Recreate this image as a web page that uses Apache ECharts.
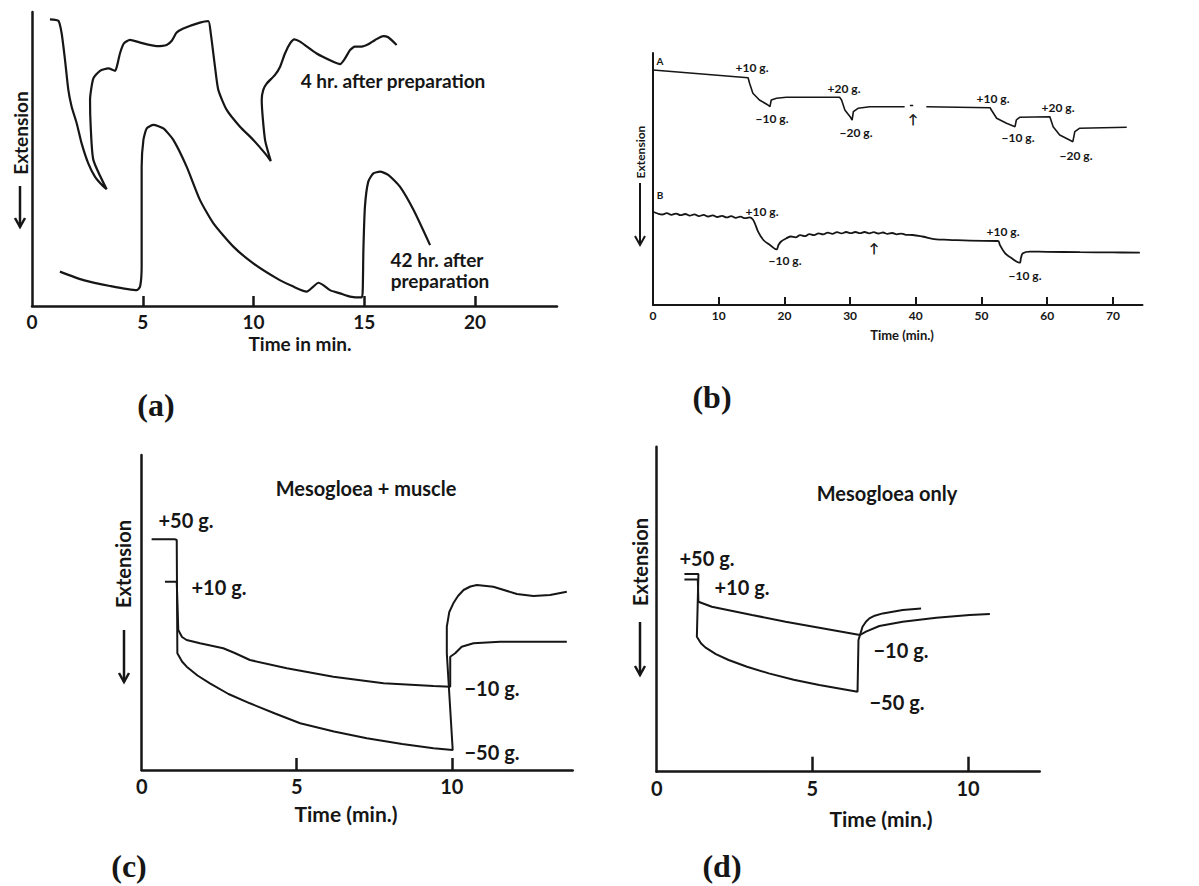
<!DOCTYPE html>
<html>
<head>
<meta charset="utf-8">
<script src="https://cdn.jsdelivr.net/npm/echarts@6/dist/echarts.min.js"></script>
<style>
html,body{margin:0;padding:0;background:#fff;}
#chart{width:1199px;height:886px;}
</style>
</head>
<body>
<div id="chart"></div>
<script>
// ---------- Panel (a): time (min) vs extension (arbitrary units, 0-100)
const ticksA = [0, 5, 10, 15, 20];
const a4hr = [
  [0.81,97.5],[1.19,97.0],[1.34,92.7],[1.49,83.7],[1.64,73.5],[1.79,67.8],[2.02,62.1],[2.24,55.3],[2.54,48.5],[2.84,44.0],[3.15,41.2],[3.37,39.7],
  [2.77,49.7],[2.65,61.0],[2.62,70.1],[2.77,77.4],[3.07,80.0],[3.45,80.8],[3.75,80.0],[3.85,82.0],[3.97,85.9],[4.15,89.3],[4.42,90.5],[4.88,89.6],[5.63,88.4],[6.08,88.8],[6.31,90.2],[6.53,93.0],[6.83,94.4],[7.58,96.4],[7.96,96.9],
  [8.07,92.7],[8.26,81.4],[8.41,73.5],[8.79,66.7],[9.39,61.0],[9.99,56.5],[10.52,51.9],[10.78,49.3],
  [10.52,56.5],[10.37,70.1],[10.44,73.5],[10.60,75.7],[10.97,78.6],[11.20,81.4],[11.42,85.9],[11.65,89.3],[11.84,90.7],[12.10,89.9],[12.85,85.9],[13.60,83.1],[13.91,82.3],[14.13,84.2],[14.36,87.1],[14.58,88.2],[14.88,88.2],[15.18,89.0],[15.49,90.5],[15.86,91.8],[16.08,91.4],[16.46,88.8]
];
const a42hr = [
  [1.26,11.7],[2.32,8.8],[3.52,6.8],[4.73,5.4],[4.88,6.6],[4.95,13.4],[4.95,47.4],[5.03,56.5],[5.18,60.4],[5.48,61.6],[5.93,60.4],[6.38,56.5],[6.98,47.4],[7.58,36.1],[8.19,28.1],[9.09,20.2],[9.99,14.5],[11.05,9.4],[11.80,6.6],[12.40,4.9],[12.70,6.6],[12.93,7.9],[13.15,7.1],[13.45,5.4],[13.91,4.3],[14.36,3.2],[14.88,2.9],[14.93,5.4],[14.96,19.0],[15.03,33.8],[15.18,42.3],[15.41,45.1],[15.71,45.7],[16.08,44.6],[16.61,40.6],[17.22,32.7],[17.97,20.7]
];

// ---------- Panel (b): time (min) vs extension (arbitrary units)
const ticksB = [0, 10, 20, 30, 40, 50, 60, 70];
const bA1 = [[0,235],[14.47,227.3],[14.7,221.7],[15.2,211.7],[16.2,205],[17.5,200],[17.8,198.3],[18.0,205],[18.8,206.7],[20.3,207.7],[28.4,207.7],[28.7,205],[29.2,195],[30.0,188.3],[30.3,185],[30.5,193.3],[31.2,196.7],[33.0,198.3],[38.3,198.3]];
const bA2 = [[39.1,199.5],[39.6,199.5]];
const bA3 = [[41.6,198.3],[51.3,197.3],[51.5,195],[52.3,186.7],[53.8,181.7],[55.1,178.3],[55.3,185],[55.8,187.7],[60.4,188.3],[60.9,178.3],[61.9,170],[63.4,165],[63.9,163.3],[64.2,173.3],[64.9,176.7],[72.1,177.7]];
const bB = [[0,93.3],[0.7,91.5],[1.4,90.5],[2.1,91.8],[2.8,90.2],[3.5,91.4],[4.2,89.8],[4.9,91.0],[5.6,89.4],[6.3,90.6],[7.0,88.9],[7.7,90.1],[8.4,88.5],[9.1,89.7],[9.8,88.0],[10.5,89.2],[11.2,87.6],[11.9,88.8],[12.6,87.2],[13.3,88.3],[14.0,86.8],[14.7,87.6],[15.2,85.5],[15.6,80],[16.0,73.3],[16.8,65],[17.8,60],[18.8,55.7],[19.1,60],[19.5,63.5],[20.3,66.7],[21.0,68.5],[21.7,67.6],[22.4,69.8],[23.1,68.8],[23.8,70.8],[24.5,69.8],[25.2,71.6],[25.9,70.6],[26.6,72.3],[27.3,71.2],[28.0,72.8],[28.7,71.6],[29.4,73.0],[30.1,71.8],[30.8,73.0],[31.5,71.8],[32.2,73.0],[32.9,71.7],[33.6,72.8],[34.3,71.5],[35.0,72.5],[35.7,71.1],[36.4,72.0],[37.1,70.7],[37.8,71.4],[38.5,70.2],[39.5,70.0],[41,68.5],[43.1,65.7],[45,65.2],[48.2,64.3],[52.5,64],[52.8,60],[53.6,51.7],[54.6,46.7],[55.8,42.3],[56.0,47],[56.3,51.7],[57.4,53.3],[60,53.2],[65,52.8],[70,52.6],[74.1,52.3]];

// ---------- Panel (c): Mesogloea + muscle
const ticksC = [0, 5, 10];
const c50 = [[0.32,230.7],[1.08,230.7],[1.13,230],[1.15,116.7],[1.3,108.5],[1.45,103.3],[1.8,94.5],[2.20,86.7],[2.8,76],[3.49,66.7],[4.3,56.5],[5.11,46.7],[6.2,38.5],[7.26,31.7],[8.4,26],[9.41,21.7],[10.03,20],[9.84,116.7],[9.84,143.3],[9.92,158],[10.05,166.7],[10.2,174],[10.38,180],[10.6,183.5],[10.81,185],[11.34,183.3],[12.10,176],[12.63,174],[13.17,175],[13.71,178.3]];
const c10 = [[0.75,188.3],[1.13,188.3],[1.18,140],[1.3,133],[1.45,130],[1.88,126.7],[2.63,121.7],[3.0,117],[3.49,110],[4.68,101.7],[6.18,93.3],[7.80,86.7],[9.41,84],[9.95,83.3],[9.95,113.3],[10.11,116.7],[10.32,123.3],[10.70,126.7],[11.56,128.3],[12.63,128.3],[13.71,128.3]];

// ---------- Panel (d): Mesogloea only
const ticksD = [0, 5, 10];
const d50 = [[0.89,197.7],[1.34,197.7],[1.29,135],[1.42,128.5],[1.56,124.3],[1.9,117.5],[2.31,111.7],[2.9,105],[3.60,98.3],[4.4,92],[5.22,86.7],[6.45,80],[6.48,131.7],[6.61,145],[6.72,150],[6.83,153.3],[7.0,156],[7.26,158.3],[7.90,161.7],[8.49,163.3]];
const d10 = [[0.89,192.3],[1.32,192.3],[1.34,170],[1.77,165],[3.06,156.7],[4.14,150],[5.22,144],[6.53,136.7],[6.72,140],[7.15,145.7],[7.90,150],[8.98,154],[10.05,156.7],[10.70,157.7]];

// ---------- styling / layout
const INK = '#161616';
const SANS = 'Lato, "Open Sans", "DejaVu Sans", sans-serif';
const SERIF = '"Liberation Serif", "DejaVu Serif", serif';

function xAx(gi, max, interval, ticks, fs, tickLen, margin, lw) {
  return {
    type: 'value', gridIndex: gi, min: 0, max: max, interval: interval,
    axisLine: { show: true, lineStyle: { color: INK, width: lw } },
    axisTick: { show: true, inside: true, length: tickLen, lineStyle: { color: INK, width: lw },
      customValues: ticks.filter(v => v > 0) },
    axisLabel: { show: true, color: INK, fontFamily: SANS, fontWeight: 'bold', fontSize: fs, margin: margin,
      customValues: ticks, formatter: v => String(v) },
    splitLine: { show: false }
  };
}
function yAx(gi, max, lw) {
  return {
    type: 'value', gridIndex: gi, min: 0, max: max,
    axisLine: { show: true, onZero: false, lineStyle: { color: INK, width: lw } },
    axisTick: { show: false }, axisLabel: { show: false }, splitLine: { show: false }
  };
}
function line(data, xi, w, smooth) {
  return { type: 'line', data: data, xAxisIndex: xi, yAxisIndex: xi, symbol: 'none', showSymbol: false,
    smooth: smooth || false, silent: true, animation: false,
    lineStyle: { color: INK, width: w } };
}
function txt(x, y, s, fs, opts) {
  opts = opts || {};
  return { type: 'text', x: x, y: y, rotation: opts.rot || 0, silent: true,
    style: { text: s, fill: INK, fontSize: fs, fontFamily: opts.serif ? SERIF : SANS,
      fontWeight: 'bold', align: 'center', verticalAlign: 'middle' } };
}
function arrow(x, y1, y2, w) {
  return [
    { type: 'line', silent: true, shape: { x1: x, y1: y1, x2: x, y2: y2 }, style: { stroke: INK, lineWidth: w } },
    { type: 'polyline', silent: true, shape: { points: [[x - 5, y2 - 9], [x, y2], [x + 5, y2 - 9]] },
      style: { stroke: INK, lineWidth: w, fill: null } }
  ];
}

const chart = echarts.init(document.getElementById('chart'), null, { renderer: 'svg', width: 1199, height: 886 });

const graphics = [].concat(
  // (a)
  [txt(393, 80, '4 hr. after preparation', 19),
   txt(437, 259, '42 hr. after', 19),
   txt(440, 280, 'preparation', 19),
   txt(300, 343, 'Time in min.', 19),
   txt(20, 133, 'Extension', 19, { rot: Math.PI / 2 }),
   txt(156, 405, '(a)', 32, { serif: true })],
  arrow(20, 186, 227, 2.5),
  // (b)
  [txt(660, 61, 'A', 10),
   txt(752, 67, '+10 g.', 12), txt(772, 118, '\u221210 g.', 12),
   txt(844, 88, '+20 g.', 12), txt(856, 132, '\u221220 g.', 12),
   txt(913, 119, '\u2191', 13),
   txt(993, 98, '+10 g.', 12), txt(1018, 137, '\u221210 g.', 12),
   txt(1058, 107, '+20 g.', 12), txt(1076, 155, '\u221220 g.', 12),
   txt(660, 195, 'B', 10),
   txt(762, 211, '+10 g.', 12), txt(785, 260, '\u221210 g.', 12),
   txt(874, 248, '\u2191', 13),
   txt(1003, 231, '+10 g.', 12), txt(1025, 275, '\u221210 g.', 12),
   txt(902, 335, 'Time (min.)', 13),
   txt(640, 152, 'Extension', 12, { rot: Math.PI / 2 }),
   txt(712, 397, '(b)', 32, { serif: true })],
  arrow(640, 183, 245, 2),
  // (c)
  [txt(366, 488, 'Mesogloea + muscle', 20),
   txt(186, 520, '+50 g.', 20), txt(219, 587, '+10 g.', 20),
   txt(492, 688, '\u221210 g.', 20), txt(492, 752, '\u221250 g.', 20),
   txt(346, 813, 'Time (min.)', 21),
   txt(123, 564, 'Extension', 20, { rot: Math.PI / 2 }),
   txt(129, 866, '(c)', 32, { serif: true })],
  arrow(124, 630, 682, 2.5),
  // (d)
  [txt(887, 493, 'Mesogloea only', 20),
   txt(707, 558, '+50 g.', 20), txt(742, 587, '+10 g.', 20),
   txt(901, 650, '\u221210 g.', 20), txt(897, 702, '\u221250 g.', 20),
   txt(881, 818, 'Time (min.)', 21),
   txt(640, 562, 'Extension', 20, { rot: Math.PI / 2 }),
   txt(722, 866, '(d)', 32, { serif: true })],
  arrow(640, 622, 675, 2.5)
);

chart.setOption({
  backgroundColor: '#ffffff',
  animation: false,
  grid: [
    { left: 32, top: 12, width: 525, height: 294 },
    { left: 653, top: 53, width: 489.5, height: 252 },
    { left: 141.7, top: 455, width: 431, height: 315 },
    { left: 656.7, top: 446.7, width: 383, height: 325 }
  ],
  xAxis: [
    xAx(0, 23.7, 5, ticksA, 19, 10, 6, 2.5),
    xAx(1, 74.5, 10, ticksB, 12, 8, 4, 2),
    xAx(2, 13.9, 5, ticksC, 20, 12, 6, 2.5),
    xAx(3, 12.3, 5, ticksD, 20, 15, 6, 2.5)
  ],
  yAxis: [ yAx(0, 100, 2.5), yAx(1, 252, 2), yAx(2, 315, 2.5), yAx(3, 325, 2.5) ],
  series: [
    line(a4hr, 0, 2.2, 0.2), line(a42hr, 0, 2.2, 0.2),
    line(bA1, 1, 1.6), line(bA2, 1, 1.6), line(bA3, 1, 1.6), line(bB, 1, 1.8, 0.4),
    line(c50, 2, 2), line(c10, 2, 2),
    line(d50, 3, 2), line(d10, 3, 2)
  ],
  graphic: { elements: graphics }
});
</script>
</body>
</html>
